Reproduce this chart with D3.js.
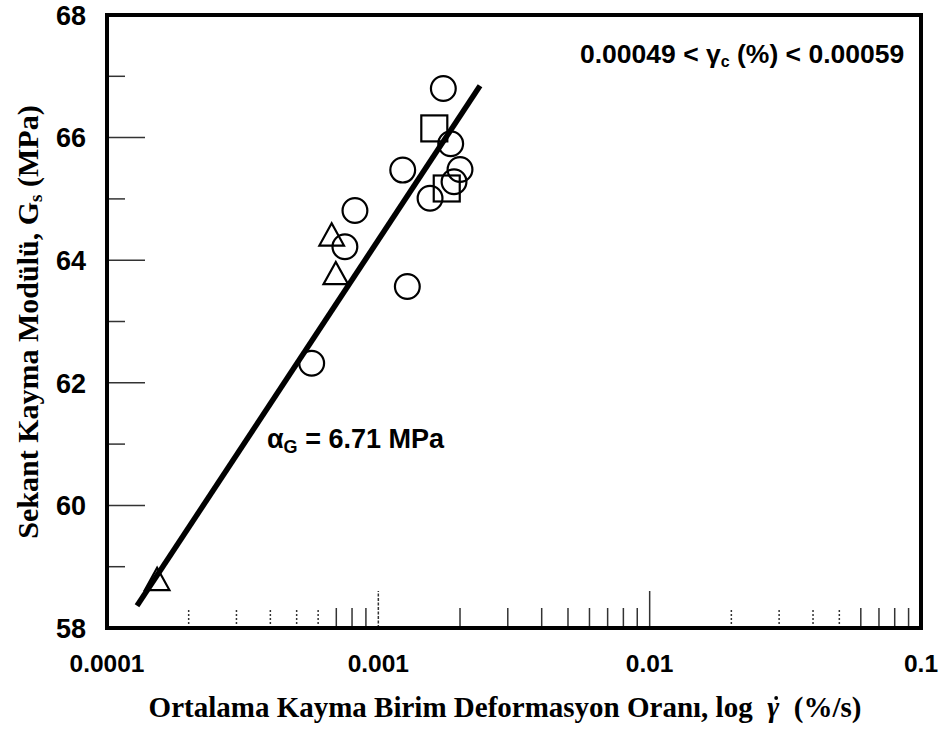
<!DOCTYPE html>
<html>
<head>
<meta charset="utf-8">
<script src="https://cdn.jsdelivr.net/npm/d3@7"></script>
<style>
  html, body { margin: 0; padding: 0; background: #fff; }
  svg { display: block; }
</style>
</head>
<body>
<svg id="chart" width="945" height="733"></svg>
<script>
// Secant shear modulus vs. mean shear strain rate (log scale)
const xMajorTicks = [0.0001, 0.001, 0.01, 0.1];
const xMajorLabels = ["0.0001", "0.001", "0.01", "0.1"];
const yMajorTicks = [58, 60, 62, 64, 66, 68];
const yMinorTicks = [59, 61, 63, 65, 67];

// Test results, grouped by marker shape
const circleRate = [0.001736, 0.001848, 0.001230, 0.002000, 0.001901, 0.001551, 0.000820, 0.000753, 0.001279, 0.000568];
const circleG    = [66.80, 65.90, 65.47, 65.48, 65.28, 65.01, 64.81, 64.22, 63.57, 62.32];
const squareRate = [0.001608, 0.001787];
const squareG    = [66.15, 65.17];
const triangleRate = [0.000673, 0.000697, 0.000153];
const triangleG    = [64.36, 63.73, 58.74];

// Fitted line: G = intercept + slope * log10(rate)
const fitSlope = 6.71;
const fitIntercept = 84.46;
const fitRange = [0.000129, 0.00237];

const svg = d3.select("#chart");
const plotLeft = 107, plotRight = 921, plotTop = 15, plotBottom = 628;

const x = d3.scaleLog().domain([0.0001, 0.1]).range([plotLeft, plotRight]);
const y = d3.scaleLinear().domain([58, 68]).range([plotBottom, plotTop]);

const sans = "'Liberation Sans', Arial, Helvetica, sans-serif";
const serif = "'Liberation Serif', 'Times New Roman', Times, serif";

// Minor x ticks (2..9 in each decade) plus inner major ticks
const xMinor = [];
[0.0001, 0.001, 0.01].forEach((d, di) => {
  for (let k = 2; k <= 9; k++) {
    const dotted = (di === 0 && k <= 6) || (di === 2 && k <= 5);
    xMinor.push({ v: d * k, dotted });
  }
});
const tickG = svg.append("g").attr("stroke", "#333").attr("stroke-width", 1.5);
tickG.selectAll("line.xmin").data(xMinor).join("line")
  .attr("class", "xmin")
  .attr("x1", d => x(d.v)).attr("x2", d => x(d.v))
  .attr("y1", plotBottom).attr("y2", plotBottom - 20)
  .attr("stroke-dasharray", d => d.dotted ? "2,2" : null);
tickG.selectAll("line.xmaj").data([0.001, 0.01]).join("line")
  .attr("class", "xmaj")
  .attr("x1", d => x(d)).attr("x2", d => x(d))
  .attr("y1", plotBottom).attr("y2", plotBottom - 37)
  .attr("stroke-dasharray", d => d === 0.001 ? "3,1.5" : null);

// Y ticks
tickG.selectAll("line.ymaj").data(yMajorTicks.filter(v => v > 58 && v < 68)).join("line")
  .attr("class", "ymaj")
  .attr("x1", plotLeft).attr("x2", plotLeft + 38)
  .attr("y1", d => y(d)).attr("y2", d => y(d));
tickG.selectAll("line.ymin").data(yMinorTicks).join("line")
  .attr("class", "ymin")
  .attr("x1", plotLeft).attr("x2", plotLeft + 18)
  .attr("y1", d => y(d)).attr("y2", d => y(d));

// Frame
svg.append("rect")
  .attr("x", plotLeft).attr("y", plotTop)
  .attr("width", plotRight - plotLeft).attr("height", plotBottom - plotTop)
  .attr("fill", "none").attr("stroke", "#000").attr("stroke-width", 4);

// Tick labels
svg.append("g").selectAll("text").data(xMajorTicks).join("text")
  .attr("x", d => x(d)).attr("y", 672)
  .attr("text-anchor", "middle")
  .attr("font-family", sans).attr("font-weight", "bold").attr("font-size", 24.5)
  .text((d, i) => xMajorLabels[i]);
svg.append("g").selectAll("text").data(yMajorTicks).join("text")
  .attr("x", 86).attr("y", d => y(d))
  .attr("dy", "0.36em")
  .attr("text-anchor", "end")
  .attr("font-family", sans).attr("font-weight", "bold").attr("font-size", 27)
  .text(d => d);

// Fit line
const fitPts = fitRange.map(r => [r, fitIntercept + fitSlope * Math.log10(r)]);
svg.append("path")
  .datum(fitPts)
  .attr("d", d3.line().x(d => x(d[0])).y(d => y(d[1])))
  .attr("fill", "none").attr("stroke", "#000").attr("stroke-width", 5.5);

// Markers
const mk = svg.append("g").attr("fill", "none").attr("stroke", "#000").attr("stroke-width", 2.2);
mk.selectAll("circle").data(d3.zip(circleRate, circleG)).join("circle")
  .attr("cx", d => x(d[0])).attr("cy", d => y(d[1])).attr("r", 12.4);
mk.selectAll("rect").data(d3.zip(squareRate, squareG)).join("rect")
  .attr("x", d => x(d[0]) - 13).attr("y", d => y(d[1]) - 13)
  .attr("width", 26).attr("height", 26);
mk.selectAll("path").data(d3.zip(triangleRate, triangleG)).join("path")
  .attr("transform", d => `translate(${x(d[0])},${y(d[1])})`)
  .attr("d", "M0,-14.8L12.3,7.4L-12.3,7.4Z");

// Annotations
const a1 = svg.append("text")
  .attr("x", 580).attr("y", 63)
  .attr("font-family", sans).attr("font-weight", "bold").attr("font-size", 26.5);
a1.append("tspan").text("0.00049 < γ");
a1.append("tspan").attr("font-size", 16).attr("dy", 4).text("c");
a1.append("tspan").attr("dy", -4).text(" (%) < 0.00059");

const a2 = svg.append("text")
  .attr("x", 267).attr("y", 448)
  .attr("font-family", sans).attr("font-weight", "bold").attr("font-size", 27);
a2.append("tspan").text("α");
a2.append("tspan").attr("font-size", 18).attr("dy", 5).text("G");
a2.append("tspan").attr("dy", -5).text(" = 6.71 MPa");

// Axis titles
const xTitleY = 717;
const xt = svg.append("text")
  .attr("x", 505).attr("y", xTitleY)
  .attr("text-anchor", "middle")
  .attr("font-family", serif).attr("font-weight", "bold").attr("font-size", 29);
xt.append("tspan").text("Ortalama Kayma Birim Deformasyon Oranı, log\u2002");
const gam = xt.append("tspan").attr("font-style", "italic").text("\u03B3");
xt.append("tspan").text("\u2002(%/s)");

// dot accent (time derivative) over the strain symbol
const gb = gam.node().getBBox();
svg.append("circle")
  .attr("cx", gb.x + gb.width / 2 + 2.5).attr("cy", xTitleY - 19)
  .attr("r", 1.9).attr("fill", "#000");

const yt = svg.append("text")
  .attr("transform", "translate(38,322) rotate(-90)")
  .attr("text-anchor", "middle")
  .attr("font-family", serif).attr("font-weight", "bold").attr("font-size", 30);
yt.append("tspan").text("Sekant Kayma Modülü, G");
yt.append("tspan").attr("font-size", 19).attr("dy", 4).text("s");
yt.append("tspan").attr("dy", -4).text(" (MPa)");
</script>
</body>
</html>
